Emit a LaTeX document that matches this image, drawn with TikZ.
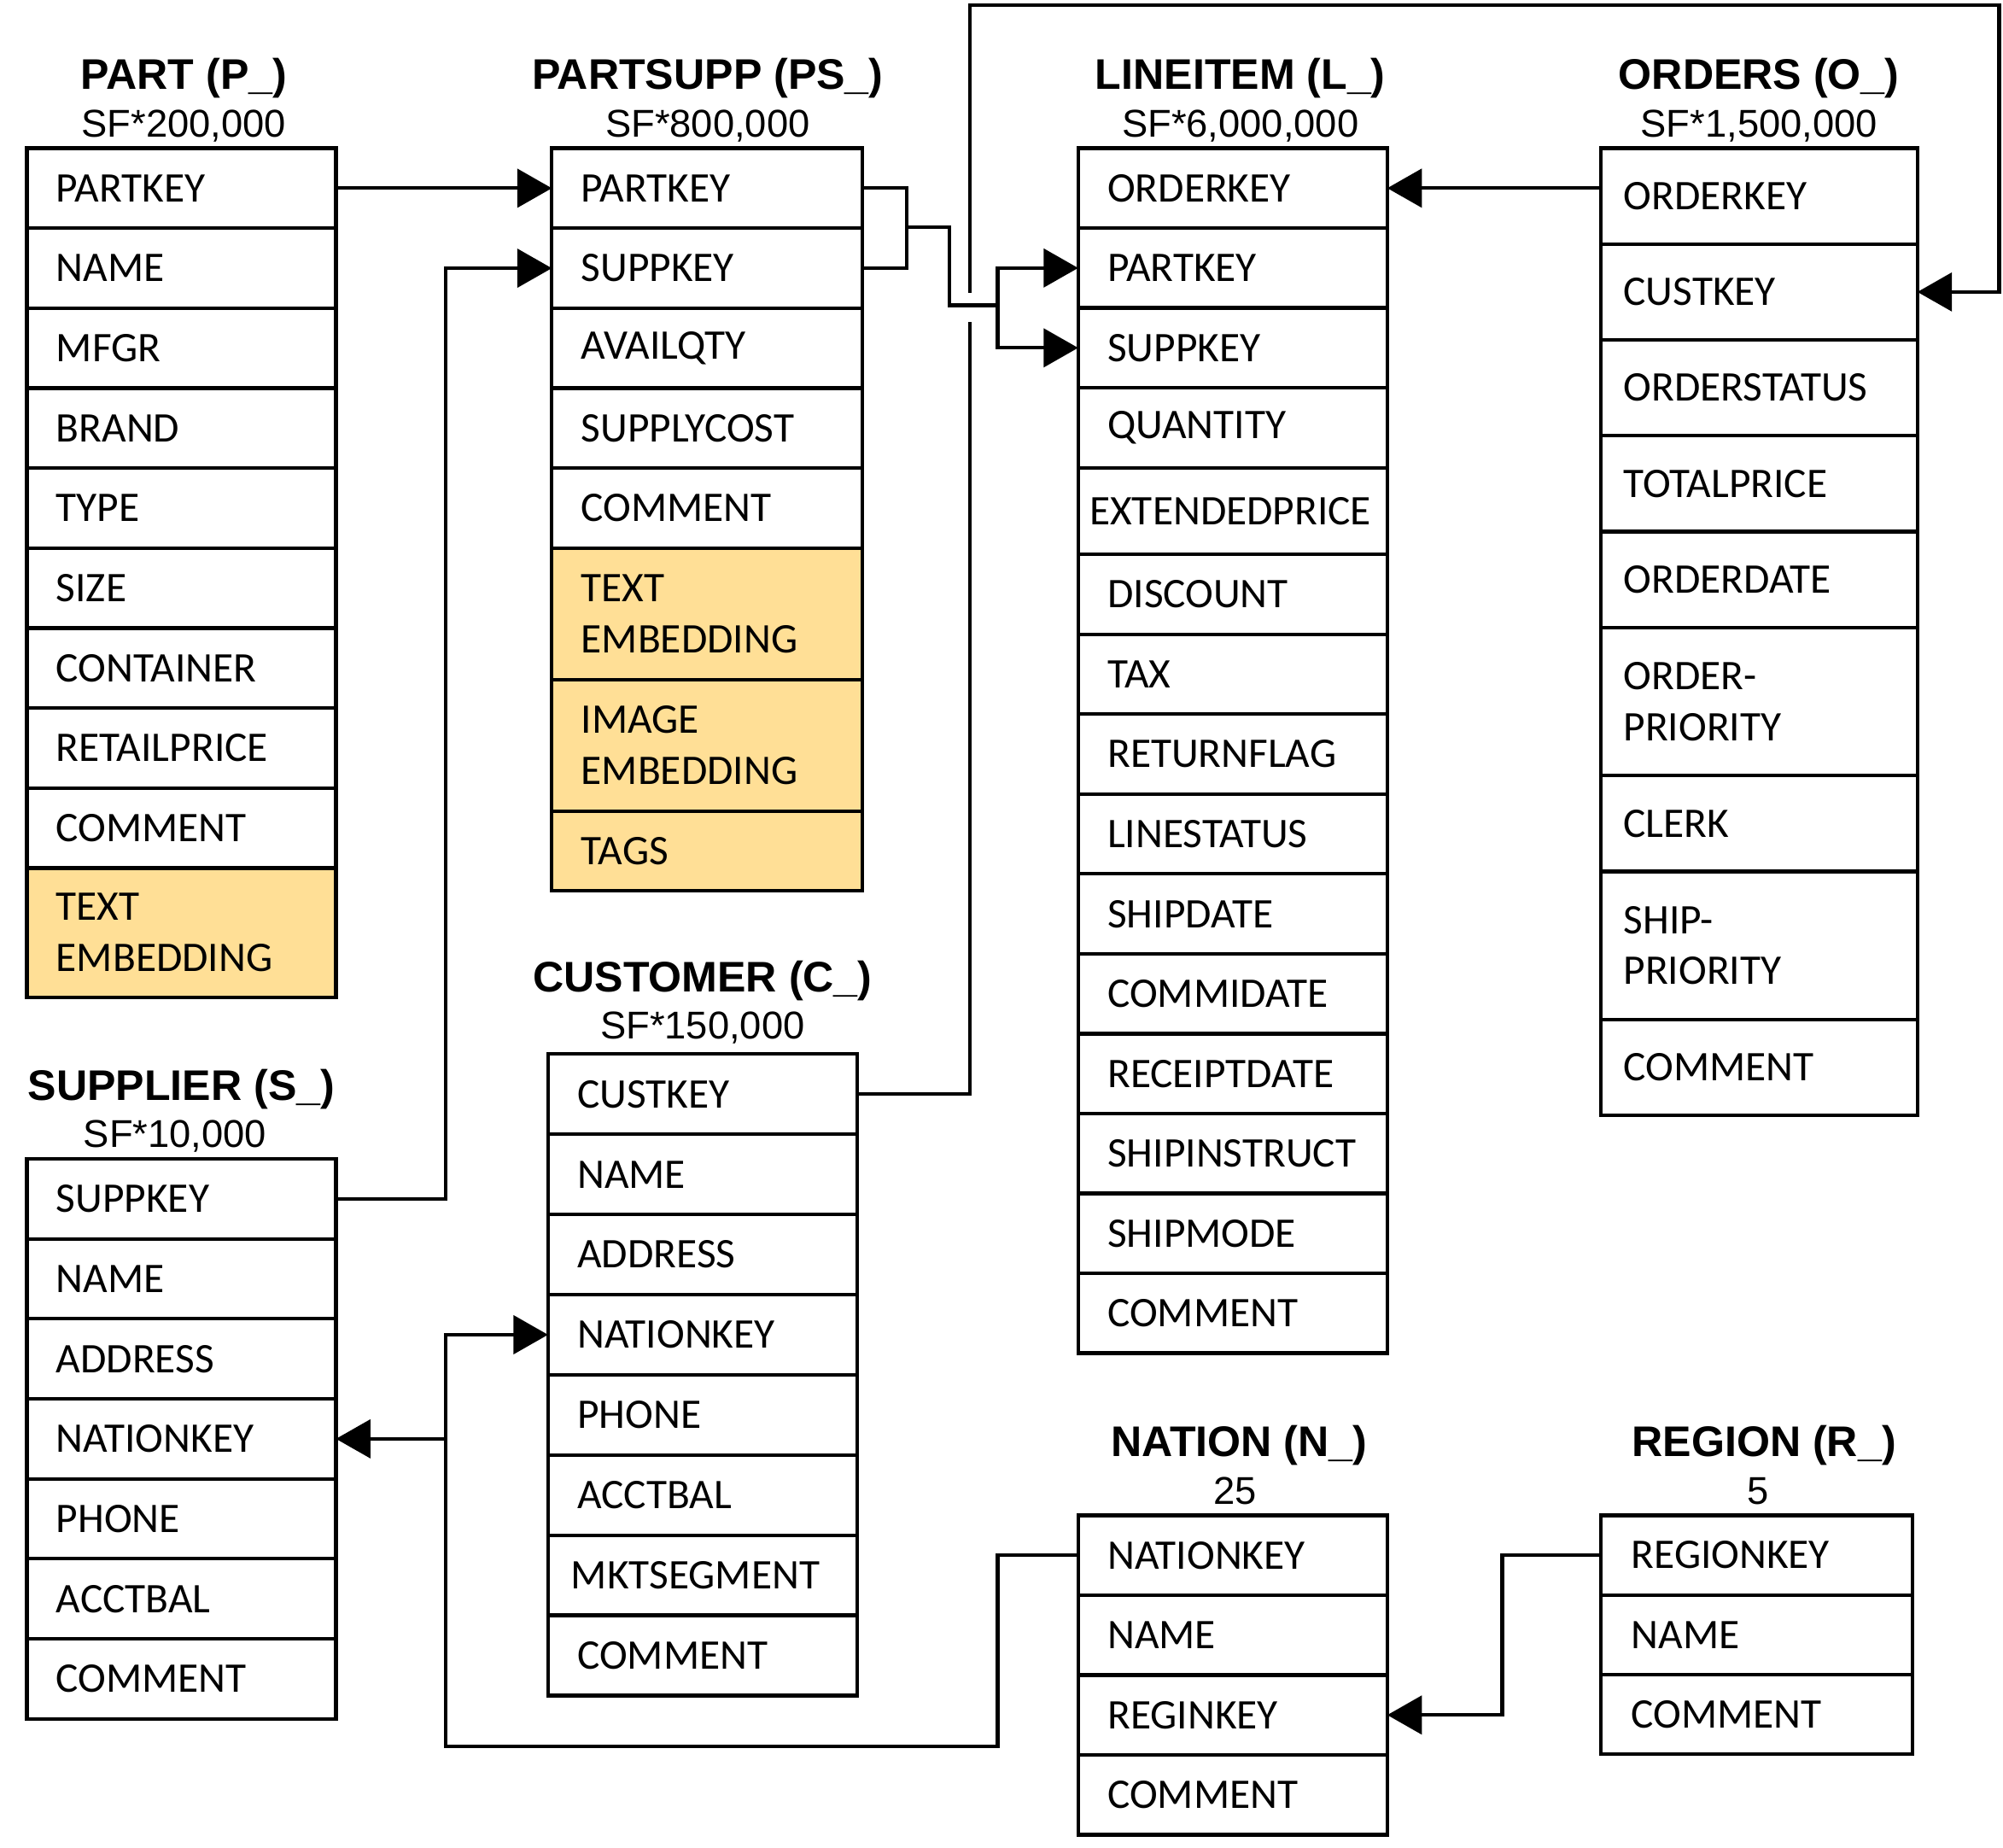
\documentclass[tikz,border=0pt]{standalone}
\usepackage{fontspec}
\newfontfamily\fldfont{Carlito}
\newfontfamily\hdfont{Liberation Sans}
\usetikzlibrary{arrows.meta}
\definecolor{embfill}{RGB}{255,223,150}
\tikzset{
  fld/.style={draw, line width=2.8pt, anchor=north west, outer sep=0pt, inner ysep=0pt, inner xsep=23pt,
    text width=196pt, align=left, font=\fldfont\fontsize{33}{40}\selectfont, minimum height=#1},
  fld/.default=62.6pt,
  emb/.style={fill=embfill},
  ordw/.style={inner xsep=18pt, text width=212pt},
  regw/.style={inner xsep=24pt, text width=196pt},
  widetxt/.style={inner xsep=9pt, text width=224pt},
  title/.style={font=\hdfont\bfseries\fontsize{33.5}{40}\selectfont, anchor=base, inner sep=0pt},
  sub/.style={font=\hdfont\fontsize{30.3}{36}\selectfont, anchor=base, inner sep=0pt},
  wire/.style={line width=2.8pt},
  arr/.style={line width=2.8pt, -{Triangle[length=27pt,width=30pt]}},
}
\begin{document}
\begin{tikzpicture}[x=1pt,y=-1pt]
\useasboundingbox (0,0) rectangle (1568,1446);

% ---------- PART ----------
\node[title] (tpart) at (144,70) {PART (P\_)};
\node[sub] (spart) at (144,107) {SF*200,000};
\node[fld] (p1) at (21,116) {PARTKEY};
\node[fld] (p2) at (p1.south west) {NAME};
\node[fld] (p3) at (p2.south west) {MFGR};
\node[fld] (p4) at (p3.south west) {BRAND};
\node[fld] (p5) at (p4.south west) {TYPE};
\node[fld] (p6) at (p5.south west) {SIZE};
\node[fld] (p7) at (p6.south west) {CONTAINER};
\node[fld] (p8) at (p7.south west) {RETAILPRICE};
\node[fld] (p9) at (p8.south west) {COMMENT};
\node[fld=101pt, emb] (p10) at (p9.south west) {TEXT\\EMBEDDING};

% ---------- PARTSUPP ----------
\node[title] (tps) at (554,70) {PARTSUPP (PS\_)};
\node[sub] (sps) at (554,107) {SF*800,000};
\node[fld, text width=197pt] (ps1) at (432,116) {PARTKEY};
\node[fld, text width=197pt] (ps2) at (ps1.south west) {SUPPKEY};
\node[fld, text width=197pt] (ps3) at (ps2.south west) {AVAILQTY};
\node[fld, text width=197pt] (ps4) at (ps3.south west) {SUPPLYCOST};
\node[fld, text width=197pt] (ps5) at (ps4.south west) {COMMENT};
\node[fld=103pt, emb, text width=197pt] (ps6) at (ps5.south west) {TEXT\\EMBEDDING};
\node[fld=103pt, emb, text width=197pt] (ps7) at (ps6.south west) {IMAGE\\EMBEDDING};
\node[fld=62pt, emb, text width=197pt] (ps8) at (ps7.south west) {TAGS};

% ---------- LINEITEM ----------
\node[title] (tl) at (971,70) {LINEITEM (L\_)};
\node[sub] (sl) at (971,107) {SF*6,000,000};
\node[fld=62.5pt] (l1) at (844,116) {ORDERKEY};
\node[fld=62.5pt] (l2) at (l1.south west) {PARTKEY};
\node[fld=62.5pt] (l3) at (l2.south west) {SUPPKEY};
\node[fld=62.5pt] (l4) at (l3.south west) {QUANTITY};
\node[fld=68pt, widetxt] (l5) at (l4.south west) {EXTENDEDPRICE};
\node[fld=62.5pt] (l6) at (l5.south west) {DISCOUNT};
\node[fld=62.5pt] (l7) at (l6.south west) {TAX};
\node[fld=62.5pt] (l8) at (l7.south west) {RETURNFLAG};
\node[fld=62.5pt] (l9) at (l8.south west) {LINESTATUS};
\node[fld=62.5pt] (l10) at (l9.south west) {SHIPDATE};
\node[fld=62.5pt] (l11) at (l10.south west) {COMMIDATE};
\node[fld=62.5pt] (l12) at (l11.south west) {RECEIPTDATE};
\node[fld=62.5pt] (l13) at (l12.south west) {SHIPINSTRUCT};
\node[fld=62.5pt] (l14) at (l13.south west) {SHIPMODE};
\node[fld=62.5pt] (l15) at (l14.south west) {COMMENT};

% ---------- ORDERS ----------
\node[title] (to) at (1377,70) {ORDERS (O\_)};
\node[sub] (so) at (1377,107) {SF*1,500,000};
\node[fld=75pt, ordw] (o1) at (1253,116) {ORDERKEY};
\node[fld=75pt, ordw] (o2) at (o1.south west) {CUSTKEY};
\node[fld=75pt, ordw] (o3) at (o2.south west) {ORDERSTATUS};
\node[fld=75pt, ordw] (o4) at (o3.south west) {TOTALPRICE};
\node[fld=75pt, ordw] (o5) at (o4.south west) {ORDERDATE};
\node[fld=116pt, ordw] (o6) at (o5.south west) {ORDER-\\PRIORITY};
\node[fld=75pt, ordw] (o7) at (o6.south west) {CLERK};
\node[fld=116pt, ordw] (o8) at (o7.south west) {SHIP-\\PRIORITY};
\node[fld=75pt, ordw] (o9) at (o8.south west) {COMMENT};

% ---------- SUPPLIER ----------
\node[title] (ts) at (142,861) {SUPPLIER (S\_)};
\node[sub] (ss) at (137,898) {SF*10,000};
\node[fld] (s1) at (21,907) {SUPPKEY};
\node[fld] (s2) at (s1.south west) {NAME};
\node[fld] (s3) at (s2.south west) {ADDRESS};
\node[fld] (s4) at (s3.south west) {NATIONKEY};
\node[fld] (s5) at (s4.south west) {PHONE};
\node[fld] (s6) at (s5.south west) {ACCTBAL};
\node[fld] (s7) at (s6.south west) {COMMENT};

% ---------- CUSTOMER ----------
\node[title] (tc) at (550,776) {CUSTOMER (C\_)};
\node[sub] (sc) at (550,813) {SF*150,000};
\node[fld=62.75pt] (c1) at (429,825) {CUSTKEY};
\node[fld=62.75pt] (c2) at (c1.south west) {NAME};
\node[fld=62.75pt] (c3) at (c2.south west) {ADDRESS};
\node[fld=62.75pt] (c4) at (c3.south west) {NATIONKEY};
\node[fld=62.75pt] (c5) at (c4.south west) {PHONE};
\node[fld=62.75pt] (c6) at (c5.south west) {ACCTBAL};
\node[fld=62.75pt, inner xsep=18pt, text width=206pt] (c7) at (c6.south west) {MKTSEGMENT};
\node[fld=62.75pt] (c8) at (c7.south west) {COMMENT};

% ---------- NATION ----------
\node[title] (tn) at (970,1140) {NATION (N\_)};
\node[sub] (sn) at (967,1177) {25};
\node[fld=62.5pt] (n1) at (844,1186) {NATIONKEY};
\node[fld=62.5pt] (n2) at (n1.south west) {NAME};
\node[fld=62.5pt] (n3) at (n2.south west) {REGINKEY};
\node[fld=62.5pt] (n4) at (n3.south west) {COMMENT};

% ---------- REGION ----------
\node[title] (tr) at (1381,1140) {REGION (R\_)};
\node[sub] (sr) at (1376,1177) {5};
\node[fld=62.3pt, regw] (r1) at (1253,1186) {REGIONKEY};
\node[fld=62.3pt, regw] (r2) at (r1.south west) {NAME};
\node[fld=62.3pt, regw] (r3) at (r2.south west) {COMMENT};

% ---------- connectors ----------
\draw[arr] (p1.east) -- (ps1.west);
\draw[arr] (s1.east) -- ++(86,0) |- (ps2.west);

\coordinate (bj) at (710,178);
\coordinate (bk) at (781,239);
\draw[wire] (ps1.east) -- ++(35,0) |- (ps2.east);
\draw[wire] (bj) -- ++(33,0) |- (bk);
\draw[arr] (bk) |- (l2.west);
\draw[arr] (bk) |- (l3.west);

\draw[arr] (l1.east -| o1.west) -- (l1.east);

\coordinate (g1) at (759,252);
\coordinate (g2) at (759,229);
\coordinate (topr) at (1565,4);
\draw[wire] (c1.east) -| (g1);
\draw[arr] (g2) |- (topr) |- (o2.east);

\coordinate (nb) at (349,1367);
\draw[arr] (n1.west) -- ++(-63,0) |- (nb) |- (c4.west);
\draw[arr] (nb |- s4.east) -- (s4.east);

\draw[arr] (r1.west) -- ++(-77,0) |- (n3.east);
\end{tikzpicture}
\end{document}
